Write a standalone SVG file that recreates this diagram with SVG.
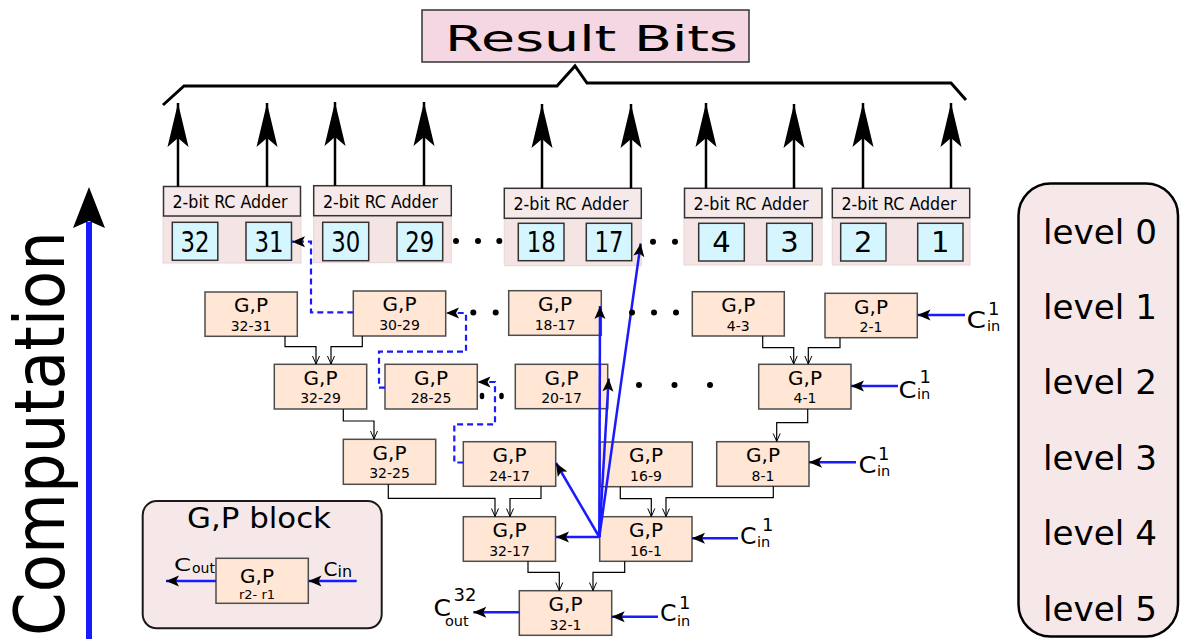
<svg xmlns="http://www.w3.org/2000/svg" width="1180" height="639" viewBox="0 0 1180 639">
<style>
text{font-family:"DejaVu Sans","Liberation Sans",sans-serif;fill:#000}
.node rect{fill:#ffe6d5;stroke:#4d4d4d;stroke-width:1.5}
.gp{font-size:20px;text-anchor:middle}
.rng{font-size:14px;text-anchor:middle}
.hdr{fill:#f6e9e9;stroke:#333;stroke-width:1.5}
.bg{fill:#f4e4e4;stroke:#e6d6d6;stroke-width:1}
.cell{fill:#d5f6ff;stroke:#333;stroke-width:1.5}
.hdrt{font-family:"DejaVu Sans Condensed","DejaVu Sans",sans-serif;font-size:18px;text-anchor:middle}
.num{font-size:29px;text-anchor:middle}
.up{stroke:#000;stroke-width:2.5;fill:none;marker-end:url(#bigArrow)}
.blk{stroke:#000;stroke-width:1.2;fill:none;marker-end:url(#smallArrow)}
.blue{stroke:#1a1aff;stroke-width:2.5;fill:none;marker-end:url(#blueArrow)}
.dash{stroke:#1a1aff;stroke-width:2.2;fill:none;stroke-dasharray:6,4;marker-end:url(#blueArrow)}
.C{font-size:23px}
.sub{font-size:14.5px}
.sup{font-size:18px}
.lvl{font-size:34px}
.dot{fill:#000}
</style>
<defs>
<marker id="bigArrow" markerUnits="userSpaceOnUse" viewBox="-45 -12 50 24" refX="0" refY="0" markerWidth="50" markerHeight="24" orient="auto" overflow="visible">
<path d="M0,0 L-44,-10.5 L-35,0 L-44,10.5 Z" fill="#000"/>
</marker>
<marker id="blueArrow" markerUnits="userSpaceOnUse" viewBox="-15 -7 16 14" refX="0" refY="0" markerWidth="16" markerHeight="14" orient="auto" overflow="visible">
<path d="M0,0 L-13,-5.5 L-10,0 L-13,5.5 Z" fill="#000"/>
</marker>
<marker id="smallArrow" markerUnits="userSpaceOnUse" viewBox="-10 -5 11 10" refX="0" refY="0" markerWidth="11" markerHeight="10" orient="auto" overflow="visible">
<path d="M-8,-3.5 L0,0 L-8,3.5" fill="none" stroke="#000" stroke-width="1"/>
</marker>
</defs>

<!-- Computation axis -->
<g id="computation">
<line x1="89" y1="222" x2="89" y2="639" stroke="#1a1aff" stroke-width="6"/>
<path d="M89,187 L105,228 L89,221 L73,228 Z" fill="#000"/>
<text transform="translate(63.5,636) rotate(-90)" font-size="70" textLength="405" lengthAdjust="spacingAndGlyphs">Computation</text>
</g>

<!-- Result bits -->
<g id="result-bits">
<rect x="422" y="10" width="327" height="52" fill="#f4d7e3" stroke="#333" stroke-width="1.5"/>
<text x="445" y="51" font-size="35" textLength="293" lengthAdjust="spacingAndGlyphs">Result Bits</text>
</g>
<g id="brace">
<path d="M163,105 L184,86 L557,86 L575,66 L587,83 L951,83 L966,100" fill="none" stroke="#000" stroke-width="3"/>
</g>

<!-- Adders -->
<g id="adder-32-31">
<rect class="bg" x="163" y="216" width="138" height="47"/>
<rect class="hdr" x="163.5" y="186.5" width="137" height="29.5"/>
<text class="hdrt" x="230" y="208" textLength="115" lengthAdjust="spacingAndGlyphs">2-bit RC Adder</text>
<rect class="cell" x="172.3" y="222.3" width="45.5" height="38"/>
<text class="num" x="195" y="251.5" textLength="29" lengthAdjust="spacingAndGlyphs">32</text>
<rect class="cell" x="246" y="222.3" width="45.5" height="38"/>
<text class="num" x="269" y="251.5" textLength="29" lengthAdjust="spacingAndGlyphs">31</text>
</g>
<g id="adder-30-29">
<rect class="bg" x="313.7" y="215.7" width="137.6" height="47"/>
<rect class="hdr" x="313.7" y="185.7" width="137.6" height="30"/>
<text class="hdrt" x="380.5" y="207.5" textLength="115" lengthAdjust="spacingAndGlyphs">2-bit RC Adder</text>
<rect class="cell" x="322.7" y="222.3" width="46" height="38.4"/>
<text class="num" x="345.7" y="251.5" textLength="29" lengthAdjust="spacingAndGlyphs">30</text>
<rect class="cell" x="397" y="222.3" width="45.7" height="38.4"/>
<text class="num" x="419.8" y="251.5" textLength="29" lengthAdjust="spacingAndGlyphs">29</text>
</g>
<g id="adder-18-17">
<rect class="bg" x="504.3" y="218.3" width="137" height="47.4"/>
<rect class="hdr" x="504.3" y="188.3" width="137" height="30"/>
<text class="hdrt" x="571" y="210" textLength="115" lengthAdjust="spacingAndGlyphs">2-bit RC Adder</text>
<rect class="cell" x="518.3" y="223.3" width="45.7" height="37.4"/>
<text class="num" x="541.2" y="252" textLength="29" lengthAdjust="spacingAndGlyphs">18</text>
<rect class="cell" x="586.3" y="223.3" width="45.4" height="37.4"/>
<text class="num" x="609" y="252" textLength="29" lengthAdjust="spacingAndGlyphs">17</text>
</g>
<g id="adder-4-3">
<rect class="bg" x="684" y="217.7" width="138" height="47.3"/>
<rect class="hdr" x="684.5" y="188.3" width="137.5" height="29.4"/>
<text class="hdrt" x="751" y="209.5" textLength="115" lengthAdjust="spacingAndGlyphs">2-bit RC Adder</text>
<rect class="cell" x="698.7" y="223.3" width="45.6" height="37.7"/>
<text class="num" x="721.5" y="252">4</text>
<rect class="cell" x="766.7" y="223.3" width="45.6" height="37.7"/>
<text class="num" x="789.5" y="252">3</text>
</g>
<g id="adder-2-1">
<rect class="bg" x="832.3" y="217.7" width="137.7" height="47.3"/>
<rect class="hdr" x="832.3" y="188.3" width="137.4" height="29.4"/>
<text class="hdrt" x="899" y="209.5" textLength="115" lengthAdjust="spacingAndGlyphs">2-bit RC Adder</text>
<rect class="cell" x="840.7" y="223.3" width="45.3" height="37.7"/>
<text class="num" x="863.3" y="252">2</text>
<rect class="cell" x="917.7" y="223.3" width="45.3" height="37.7"/>
<text class="num" x="940.3" y="252">1</text>
</g>

<!-- G,P nodes -->
<g id="gp-32-31" class="node"><rect x="205" y="292" width="92.3" height="44.3"/><text class="gp" x="251" y="312">G,P</text><text class="rng" x="251" y="330.5">32-31</text></g>
<g id="gp-30-29" class="node"><rect x="353.3" y="291" width="92.4" height="45"/><text class="gp" x="399.5" y="311.3">G,P</text><text class="rng" x="399.5" y="330">30-29</text></g>
<g id="gp-18-17" class="node"><rect x="508.7" y="290.7" width="92.6" height="44.6"/><text class="gp" x="555" y="311">G,P</text><text class="rng" x="555" y="329.5">18-17</text></g>
<g id="gp-4-3" class="node"><rect x="692.3" y="291.7" width="92" height="44.3"/><text class="gp" x="738.3" y="312">G,P</text><text class="rng" x="738.3" y="330.5">4-3</text></g>
<g id="gp-2-1" class="node"><rect x="825" y="293.3" width="92.3" height="44.4"/><text class="gp" x="871" y="313.5">G,P</text><text class="rng" x="871" y="332">2-1</text></g>

<g id="gp-32-29" class="node"><rect x="274.3" y="364.3" width="92.4" height="44.7"/><text class="gp" x="320.5" y="384.5">G,P</text><text class="rng" x="320.5" y="403">32-29</text></g>
<g id="gp-28-25" class="node"><rect x="385" y="364.3" width="92.3" height="44.7"/><text class="gp" x="431" y="384.5">G,P</text><text class="rng" x="431" y="403">28-25</text></g>
<g id="gp-20-17" class="node"><rect x="515.3" y="364.3" width="92.4" height="44.4"/><text class="gp" x="561.5" y="384.5">G,P</text><text class="rng" x="561.5" y="403">20-17</text></g>
<g id="gp-4-1" class="node"><rect x="758.7" y="364.3" width="92.3" height="44.7"/><text class="gp" x="805" y="384.5">G,P</text><text class="rng" x="805" y="403">4-1</text></g>

<g id="gp-32-25" class="node"><rect x="343.3" y="439.3" width="92.4" height="45"/><text class="gp" x="389.5" y="459.5">G,P</text><text class="rng" x="389.5" y="478">32-25</text></g>
<g id="gp-24-17" class="node"><rect x="463.3" y="441.7" width="92.4" height="44.6"/><text class="gp" x="509.5" y="462">G,P</text><text class="rng" x="509.5" y="480.5">24-17</text></g>
<g id="gp-16-9" class="node"><rect x="600" y="442" width="92.3" height="44.7"/><text class="gp" x="646" y="462.2">G,P</text><text class="rng" x="646" y="480.7">16-9</text></g>
<g id="gp-8-1" class="node"><rect x="716.7" y="441.7" width="92.3" height="44.6"/><text class="gp" x="763" y="462">G,P</text><text class="rng" x="763" y="480.5">8-1</text></g>

<g id="gp-32-17" class="node"><rect x="463.3" y="516.7" width="92.2" height="44.6"/><text class="gp" x="509.5" y="537">G,P</text><text class="rng" x="509.5" y="555.5">32-17</text></g>
<g id="gp-16-1" class="node"><rect x="599.7" y="516.7" width="92.3" height="44.6"/><text class="gp" x="646" y="537">G,P</text><text class="rng" x="646" y="555.5">16-1</text></g>

<g id="gp-32-1" class="node"><rect x="519.3" y="590.7" width="92.4" height="44.6"/><text class="gp" x="565.5" y="611">G,P</text><text class="rng" x="565.5" y="629.5">32-1</text></g>

<!-- Connectors -->
<g id="connectors">
<line class="up" x1="178" y1="186.5" x2="178" y2="103"/>
<line class="up" x1="267" y1="186.5" x2="267" y2="103"/>
<line class="up" x1="335" y1="185.7" x2="335" y2="102"/>
<line class="up" x1="424" y1="185.7" x2="424" y2="102"/>
<line class="up" x1="542" y1="188.3" x2="542" y2="104"/>
<line class="up" x1="631" y1="188.3" x2="631" y2="104"/>
<line class="up" x1="706" y1="188.3" x2="706" y2="103"/>
<line class="up" x1="794" y1="188.3" x2="794" y2="104"/>
<line class="up" x1="863" y1="188.3" x2="863" y2="103"/>
<line class="up" x1="951" y1="188.3" x2="951" y2="103"/>

<path class="blk" d="M285,336.3 V346.7 H316 V364"/>
<path class="blk" d="M362.3,336 V346.7 H331 V364"/>
<path class="blk" d="M762.7,336 V347.7 H793.7 V364"/>
<path class="blk" d="M840,337.7 V347.7 H808.3 V364"/>
<path class="blk" d="M343.3,409 V421 H374 V439"/>
<path class="blk" d="M807.7,409 V422.7 H776.7 V441.4"/>
<path class="blk" d="M388.3,484.3 V498.3 H495 V516.5"/>
<path class="blk" d="M541,486.3 V498.5 H510 V516.5"/>
<path class="blk" d="M620.3,486.7 V498.7 H651.3 V516.5"/>
<path class="blk" d="M773.3,486.3 V497.7 H666 V516.5"/>
<path class="blk" d="M528,561.3 V572.3 H559.3 V590.5"/>
<path class="blk" d="M624.7,561.3 V572.3 H593 V590.5"/>

<path class="dash" d="M353.3,312.3 H311 V241.7 H292"/>
<path class="dash" d="M385,387.7 H379 V351.7 H466 V313 H446"/>
<path class="dash" d="M463.3,462.5 H454.3 V424.3 H495 V382 H477.5"/>

<line class="blue" x1="599.3" y1="537" x2="600" y2="306"/>
<line class="blue" x1="599.3" y1="537" x2="608.7" y2="378.5"/>
<line class="blue" x1="599.3" y1="537" x2="640.7" y2="243.5"/>
<line class="blue" x1="599.3" y1="537" x2="556" y2="463"/>
<line class="blue" x1="599.3" y1="537" x2="556" y2="537"/>

<line class="blue" x1="965" y1="315" x2="917.5" y2="315"/>
<line class="blue" x1="898" y1="386" x2="851" y2="386"/>
<line class="blue" x1="856" y1="462.3" x2="809" y2="462.3"/>
<line class="blue" x1="738" y1="538.3" x2="692" y2="538.3"/>
<line class="blue" x1="658" y1="616.7" x2="611.7" y2="616.7"/>
<line class="blue" x1="519.3" y1="612.3" x2="473.3" y2="612.3"/>
</g>

<!-- dots -->
<g id="dots" class="dot">
<circle cx="456" cy="241" r="3"/><circle cx="478" cy="241" r="3"/><circle cx="499.3" cy="241" r="3"/>
<circle cx="653" cy="241.7" r="3"/><circle cx="675" cy="241.7" r="3"/>
<circle cx="473.3" cy="312.5" r="3"/><circle cx="495.7" cy="312.5" r="3"/>
<circle cx="632" cy="312.5" r="3"/><circle cx="654" cy="312.5" r="3"/><circle cx="676" cy="312.5" r="3"/>
<ellipse cx="482" cy="396" rx="2.3" ry="3.2"/><ellipse cx="501.5" cy="396" rx="2.3" ry="3.2"/>
<circle cx="639" cy="385" r="3"/><circle cx="674.5" cy="385" r="3"/><circle cx="710" cy="385" r="3"/>
</g>

<!-- carry labels -->
<g id="carry-labels">
<text class="C" x="966.5" y="327.5" textLength="19.5" lengthAdjust="spacingAndGlyphs">C</text><text class="sub" x="987" y="331">in</text><text class="sup" x="988" y="315">1</text>
<text class="C" x="898.5" y="397.5" textLength="18" lengthAdjust="spacingAndGlyphs">C</text><text class="sub" x="917" y="399">in</text><text class="sup" x="919.5" y="383">1</text>
<text class="C" x="858.5" y="473" textLength="18" lengthAdjust="spacingAndGlyphs">C</text><text class="sub" x="877" y="475.5">in</text><text class="sup" x="878" y="460">1</text>
<text class="C" x="740" y="544" textLength="16.5" lengthAdjust="spacingAndGlyphs">C</text><text class="sub" x="757" y="547">in</text><text class="sup" x="762" y="531">1</text>
<text class="C" x="660" y="621" textLength="16.5" lengthAdjust="spacingAndGlyphs">C</text><text class="sub" x="677" y="625.5">in</text><text class="sup" x="679" y="608.5">1</text>
<text class="C" x="433.5" y="615.7" textLength="17.5" lengthAdjust="spacingAndGlyphs">C</text><text class="sub" x="445" y="626" font-size="16">out</text><text class="sup" x="453.5" y="601" font-size="17">32</text>
</g>

<!-- legend -->
<g id="legend">
<rect x="142.7" y="501" width="239" height="127.3" rx="14" fill="#f6e8e8" stroke="#1a1a1a" stroke-width="2"/>
<text x="187" y="528.3" font-size="28" textLength="144" lengthAdjust="spacingAndGlyphs">G,P block</text>
<rect x="216" y="558.3" width="92.3" height="45" fill="#ffe6d5" stroke="#4d4d4d" stroke-width="1.5"/>
<text x="257" y="582.5" font-size="20" text-anchor="middle">G,P</text>
<text x="257" y="598.5" font-size="13" text-anchor="middle">r2- r1</text>
<line class="blue" x1="216" y1="581" x2="166" y2="581"/>
<line class="blue" x1="356.7" y1="581" x2="308.5" y2="581"/>
<text x="174" y="570.5" font-size="18" textLength="17" lengthAdjust="spacingAndGlyphs">C</text>
<text x="192" y="572.7" font-size="14">out</text>
<text x="323.5" y="576" font-size="20" textLength="14" lengthAdjust="spacingAndGlyphs">C</text>
<text x="337.5" y="576.5" font-size="16">in</text>
</g>

<!-- levels -->
<g id="levels">
<rect x="1018.5" y="183.5" width="159.5" height="453" rx="32" fill="#f6e8e8" stroke="#000" stroke-width="2.5"/>
<text class="lvl" x="1043" y="244" textLength="114" lengthAdjust="spacingAndGlyphs">level 0</text>
<text class="lvl" x="1043" y="319" textLength="114" lengthAdjust="spacingAndGlyphs">level 1</text>
<text class="lvl" x="1043" y="394" textLength="114" lengthAdjust="spacingAndGlyphs">level 2</text>
<text class="lvl" x="1043" y="470" textLength="114" lengthAdjust="spacingAndGlyphs">level 3</text>
<text class="lvl" x="1043" y="545" textLength="114" lengthAdjust="spacingAndGlyphs">level 4</text>
<text class="lvl" x="1043" y="621" textLength="114" lengthAdjust="spacingAndGlyphs">level 5</text>
</g>
</svg>
